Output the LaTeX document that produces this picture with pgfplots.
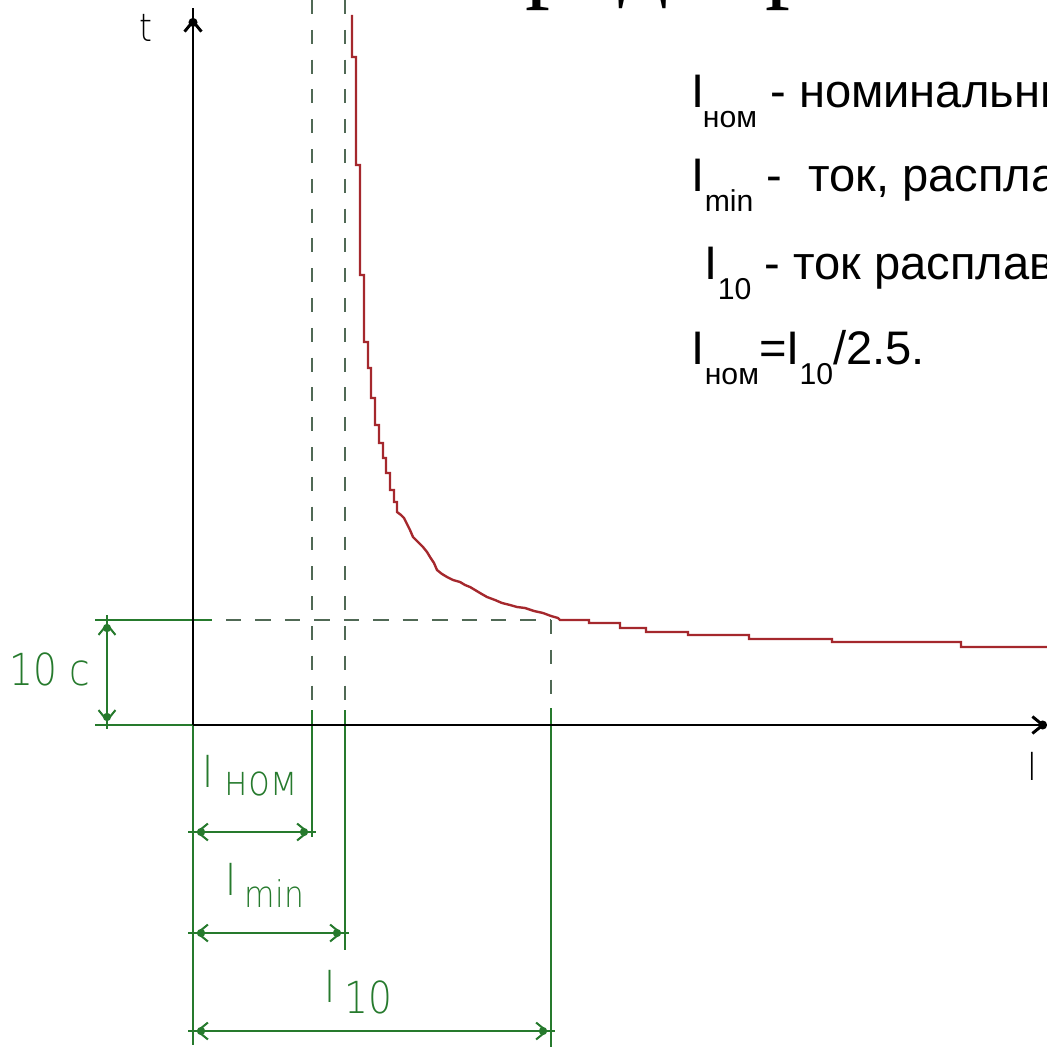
\documentclass[border=0pt]{standalone}
\usepackage{pgfplots}
\pgfplotsset{compat=1.18}
\usepackage{fontspec}
\setmainfont{Liberation Sans}
\newfontfamily\serifT{Liberation Serif}
\newfontfamily\iso[FakeStretch=0.85]{DejaVu Sans ExtraLight}
\usetikzlibrary{arrows.meta}
\definecolor{dimgreen}{RGB}{38,122,45}
\definecolor{dashc}{RGB}{80,105,85}
\definecolor{curvec}{RGB}{165,40,45}
\tikzset{
  dimline/.style={color=dimgreen,line width=0.55pt},
  barbs/.style={dimline,{Straight Barb[length=2.8pt,width=4.6pt]}-{Straight Barb[length=2.8pt,width=4.6pt]}},
  dots/.style={dimline,{Circle[length=2.2pt]}-{Circle[length=2.2pt]}},
}
\begin{document}
\begin{tikzpicture}
\useasboundingbox (0,0) rectangle (10cm,10cm);
\clip (0,0) rectangle (10cm,10cm);
\begin{axis}[at={(0,0)},anchor=south west,width=10cm,height=10cm,scale only axis,
  xmin=0,xmax=1047,ymin=0,ymax=1047,y dir=reverse,axis lines=none,clip=false]

% title fragment (only descenders visible)
\node[anchor=base west,inner sep=0pt,font=\serifT\fontsize{27}{30}\selectfont] at (axis cs:472,-10) {предохранителя};

% dashed construction lines
\addplot[color=dashc,line width=0.65pt,dash pattern=on 3.8pt off 4.3pt] coordinates {(312,0) (312,706)};
\addplot[color=dashc,line width=0.65pt,dash pattern=on 3.8pt off 4.3pt] coordinates {(345,0) (345,706)};
\addplot[color=dashc,line width=0.65pt,dash pattern=on 3.8pt off 4.3pt] coordinates {(551,620) (551,706)};
\addplot[color=dashc,line width=0.65pt,dash pattern=on 4.2pt off 3.8pt] coordinates {(226,620) (551,620)};

% green extension lines
\addplot[dimline] coordinates {(95,620) (212,620)};
\addplot[dimline] coordinates {(95,725) (193,725)};
\addplot[dimline] coordinates {(193,725) (193,1045)};
\addplot[dimline] coordinates {(312,710) (312,837)};
\addplot[dimline] coordinates {(345,710) (345,950)};
\addplot[dimline] coordinates {(551,708) (551,1047)};

% dimension lines
\draw[dimline] (axis cs:188,832) -- (axis cs:316,832);
\draw[barbs] (axis cs:196,832) -- (axis cs:309,832);
\draw[dots] (axis cs:197,832) -- (axis cs:308,832);
\draw[dimline] (axis cs:188,933) -- (axis cs:349,933);
\draw[barbs] (axis cs:196,933) -- (axis cs:342,933);
\draw[dots] (axis cs:197,933) -- (axis cs:341,933);
\draw[dimline] (axis cs:188,1031) -- (axis cs:555,1031);
\draw[barbs] (axis cs:196,1031) -- (axis cs:548,1031);
\draw[dots] (axis cs:197,1031) -- (axis cs:547,1031);
\draw[dimline] (axis cs:107,615) -- (axis cs:107,729);
\draw[barbs] (axis cs:107,623) -- (axis cs:107,722);
\draw[dots] (axis cs:107,624) -- (axis cs:107,721);

% black axes
\draw[black,line width=0.8pt] (axis cs:193,725) -- (axis cs:193,8);
\draw[black,line width=0.8pt,-{Straight Barb[length=2.8pt,width=4.6pt]}] (axis cs:193,60) -- (axis cs:193,19);
\draw[black,line width=0.8pt,-{Circle[length=2.4pt]}] (axis cs:193,60) -- (axis cs:193,18);
\draw[black,line width=0.8pt] (axis cs:193,725) -- (axis cs:1047,725);
\draw[black,line width=0.8pt,-{Straight Barb[length=2.8pt,width=4.6pt]}] (axis cs:990,725) -- (axis cs:1045,725);
\draw[black,line width=0.8pt,-{Circle[length=2.4pt]}] (axis cs:990,725) -- (axis cs:1047,725);

% melting characteristic
\addplot[color=curvec,line width=0.65pt] coordinates {
(352,15) (352,57) (356,57) (356,165) (360,165) (360,275) (364,275) (364,342)
(368,342) (368,368) (371,368) (371,398) (375,398) (375,425) (379,425) (379,443)
(383,443) (383,458) (386,458) (386,473) (390,473) (390,490) (394,490) (394,502)
(397,502) (397,512) (401,515) (404,518) (407,524) (410,530) (413,537) (418,542)
(423,547) (427,552) (430,557) (434,563) (437,570) (442,574) (447,577) (453,580)
(460,582) (465,585) (470,587) (475,590) (480,593) (487,597) (495,600) (502,603)
(510,605) (517,607) (525,608) (534,611) (543,613) (551,616) (558,618) (560,620)
(589,620) (589,623) (620,623) (620,628) (646,628) (646,632) (688,632) (688,635)
(749,635) (749,639) (832,639) (832,642) (961,642) (961,647) (1050,647)
};

% axis letters
\node[anchor=base west,inner sep=0pt,font=\iso\fontsize{10.5}{12}\selectfont,black] at (axis cs:139,42) {t};
\node[anchor=base west,inner sep=0pt,font=\iso\fontsize{10.5}{12}\selectfont,black] at (axis cs:1027,780) {I};

% green labels
\node[anchor=base west,inner sep=0pt,font=\iso\fontsize{12}{14}\selectfont,dimgreen] at (axis cs:202,787) {I\hspace{3pt}\raisebox{-2.2pt}{\fontsize{11.5}{13}\selectfont ном}};
\node[anchor=base west,inner sep=0pt,font=\iso\fontsize{12}{14}\selectfont,dimgreen] at (axis cs:225,895) {I\hspace{2.2pt}\raisebox{-3.3pt}{\fontsize{10}{12}\selectfont min}};
\node[anchor=base west,inner sep=0pt,font=\iso\fontsize{12}{14}\selectfont,dimgreen] at (axis cs:324,1002) {I\hspace{2.4pt}\raisebox{-3pt}{10}};
\node[anchor=base west,inner sep=0pt,font=\iso\fontsize{12}{14}\selectfont,dimgreen] at (axis cs:9,685) {10 c};

% right-hand text
\node[anchor=base west,inner sep=0pt,font=\fontsize{12.8}{15}\selectfont] at (axis cs:691,108) {I\kern-0.5pt\raisebox{-5.2pt}{\fontsize{8.2}{9}\selectfont ном} - номинальный ток плавкой вставки};
\node[anchor=base west,inner sep=0pt,font=\fontsize{12.8}{15}\selectfont] at (axis cs:691,192) {I\raisebox{-5.2pt}{\fontsize{8.2}{9}\selectfont min} -\ \ ток, расплавляющий вставку за бесконечно большое время};
\node[anchor=base west,inner sep=0pt,font=\fontsize{12.8}{15}\selectfont] at (axis cs:704,280) {I\raisebox{-5.2pt}{\fontsize{8.2}{9}\selectfont 10} - ток расплавления вставки за 10 с};
\node[anchor=base west,inner sep=0pt,font=\fontsize{12.8}{15}\selectfont] at (axis cs:691,365) {I\raisebox{-5.2pt}{\fontsize{8.2}{9}\selectfont ном}=I\raisebox{-5.2pt}{\fontsize{8.2}{9}\selectfont 10}/2.5.};
\end{axis}
\end{tikzpicture}
\end{document}
